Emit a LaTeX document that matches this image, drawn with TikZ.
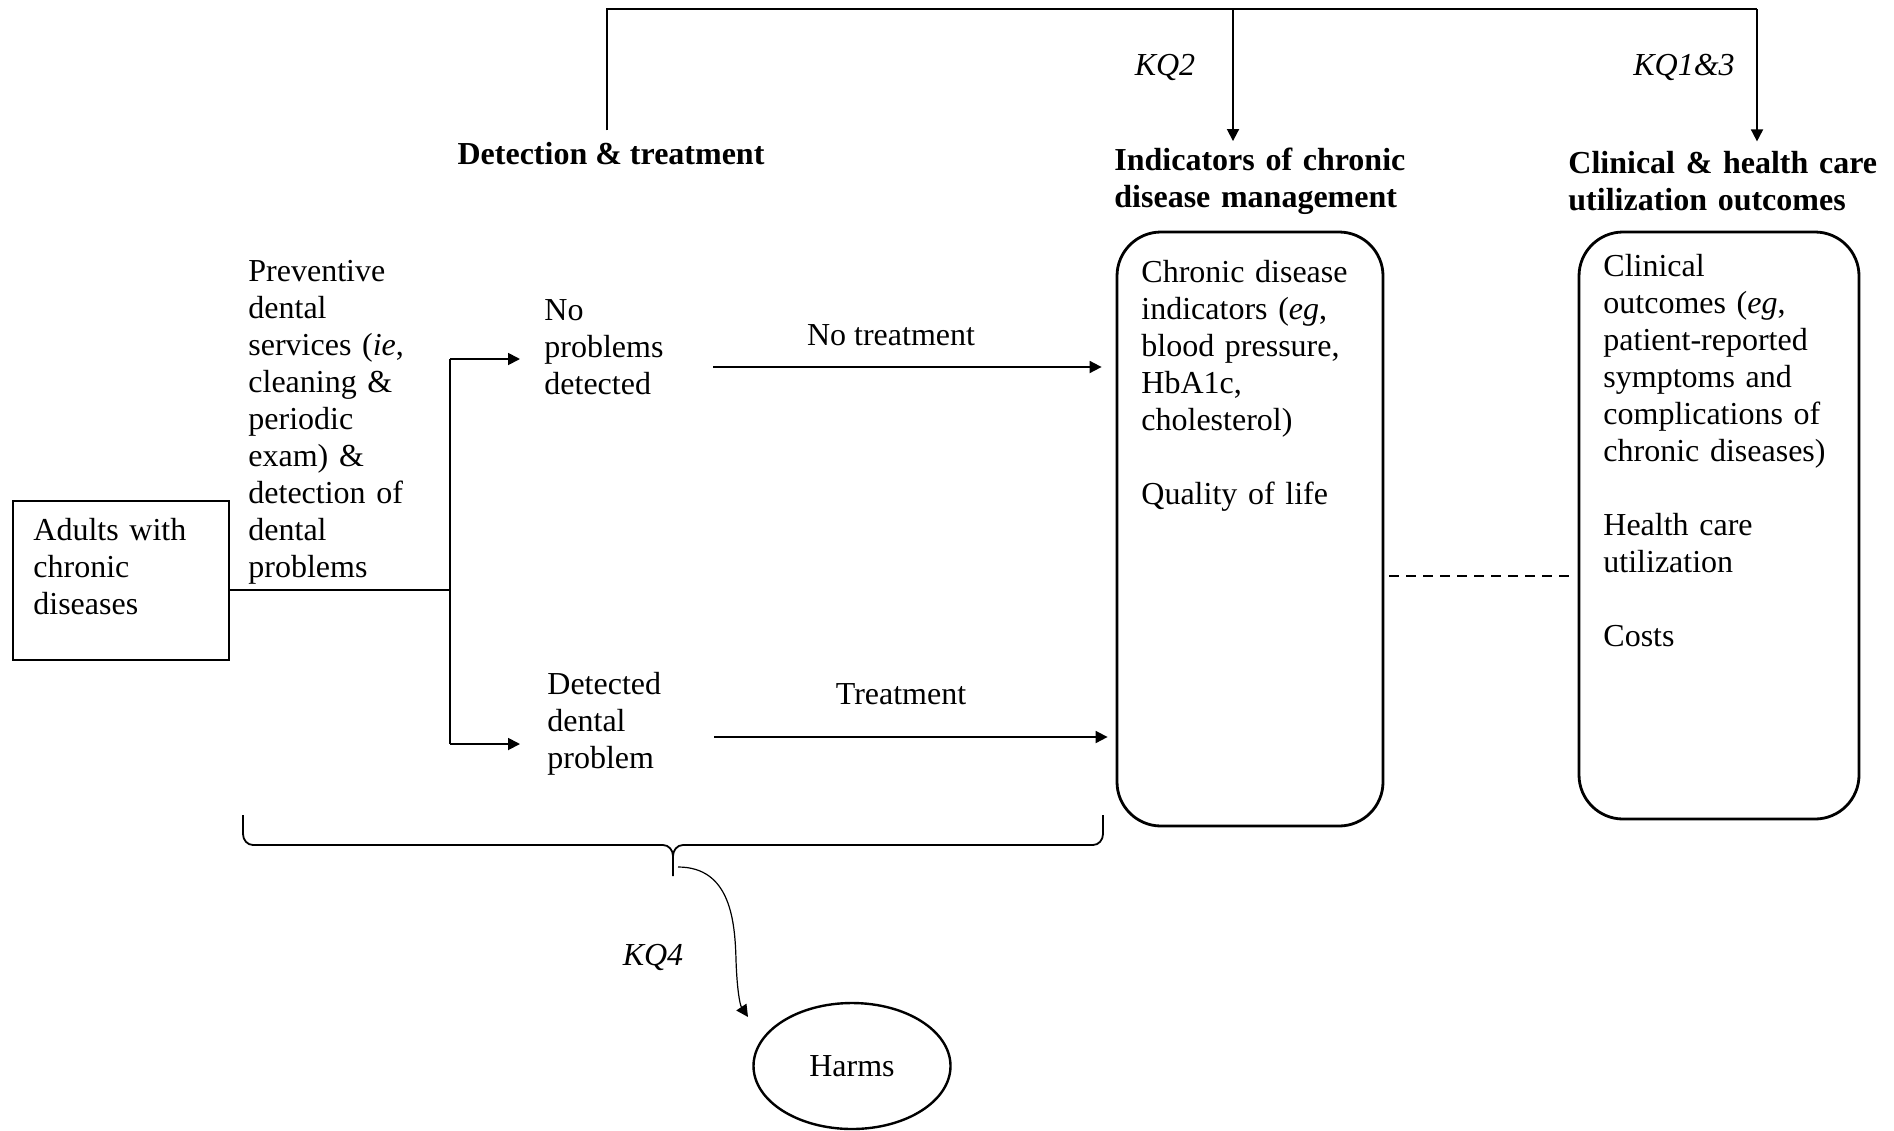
\documentclass[tikz,border=0pt]{standalone}
\usepackage{fontspec}
\setmainfont{Liberation Serif}
\usetikzlibrary{arrows.meta,shapes.geometric}
\begin{document}
\begin{tikzpicture}[x=0.5pt,y=-0.5pt,
  base/.style={font=\fontsize{16}{18.5}\selectfont, inner sep=0pt},
  txt/.style={base, anchor=base west, text width=170pt, align=left},
  hdr/.style={txt, font=\fontsize{16}{18.5}\selectfont\bfseries},
  kq/.style={base, anchor=base, font=\fontsize{16}{18.5}\selectfont\itshape},
  lbl/.style={base, anchor=base},
  conn/.style={line width=0.9pt},
  arr/.style={conn, -{Triangle[length=6pt,width=6pt]}},
  obox/.style={draw, line width=1.4pt, rounded corners=22pt, inner sep=0pt},
  brace/.style={line width=0.9pt},
  dashline/.style={line width=0.9pt, dash pattern=on 5pt off 3.5pt}
]
\useasboundingbox (0,0) rectangle (1894,1130);

% left box
\node[draw, line width=0.7pt, minimum width=108pt, minimum height=79.5pt, inner sep=0pt] (adults) at (121,580.5) {};
\node[txt] (adultsT) at (33,540) {Adults with\\chronic\\diseases};

\node[txt] (prev) at (248,281) {Preventive\\dental\\services (\textit{ie},\\cleaning \&\\periodic\\exam) \&\\detection of\\dental\\problems};

\node[txt] (noprob) at (544,320) {No\\problems\\detected};
\node[txt] (detprob) at (547,694) {Detected\\dental\\problem};

\node[lbl] (notreat) at (891,345) {No treatment};
\node[lbl] (treat) at (901,704) {Treatment};

% headers
\node[base, anchor=base, font=\fontsize{16}{18.5}\selectfont\bfseries] (det) at (611,164) {Detection \& treatment};
\node[hdr] (ind) at (1114,170) {Indicators of chronic\\disease management};
\node[hdr] (cho) at (1568,173) {Clinical \& health care\\utilization outcomes};

\node[kq] (kq2) at (1165,75) {KQ2};
\node[kq] (kq13) at (1684,75) {KQ1\&3};
\node[kq] (kq4) at (653,965) {KQ4};

% outcome boxes
\node[obox, minimum width=133pt, minimum height=297pt] (box1) at (1250,529) {};
\node[txt] (box1T) at (1141,282) {Chronic disease\\indicators (\textit{eg},\\blood pressure,\\HbA1c,\\cholesterol)\\[18.5pt]Quality of life};
\node[obox, minimum width=140pt, minimum height=293.5pt] (box2) at (1719,525.5) {};
\node[txt] (box2T) at (1603,276) {Clinical\\outcomes (\textit{eg},\\patient-reported\\symptoms and\\complications of\\chronic diseases)\\[18.5pt]Health care\\utilization\\[18.5pt]Costs};

% harms
\node[draw, ellipse, line width=1.2pt, minimum width=98.5pt, minimum height=63pt, base] (harms) at (852,1066) {\raisebox{-2pt}{Harms}};

% top bracket
\coordinate (tl) at (607,9);
\coordinate (k2) at (1233,9);
\coordinate (tr) at (1757,9);
\draw[conn] (det.north -| tl) ++(0,-11) -- (tl) -- (tr);
\draw[arr, shorten >=3pt] (k2) -- (k2 |- ind.north);
\draw[arr, shorten >=4.5pt] (tr) -- (tr |- cho.north);

% split
\coordinate (sp) at (450,590);
\coordinate (spT) at (450,359);
\coordinate (spB) at (450,744);
\draw[conn] (adults.east |- sp) -- (sp);
\draw[conn] (spT) -- (spB);
\draw[arr, shorten >=12pt] (spT) -- (spT -| noprob.west);
\draw[arr, shorten >=13.5pt] (spB) -- (spB -| detprob.west);

% treatment arrows
\coordinate (a1) at (713,367);
\coordinate (a2) at (714,737);
\draw[arr, shorten >=7pt] (a1) -- (a1 -| box1.west);
\draw[arr, shorten >=4pt] (a2) -- (a2 -| box1.west);

% dashed link
\coordinate (d1) at (1389,576);
\draw[dashline, shorten >=4pt] (d1) -- (d1 -| box2.west);

% brace
\coordinate (bl) at (243,815);
\coordinate (br) at (1103,815);
\coordinate (btip) at (673,876);
\draw[brace] (bl) -- (243,834) to[out=-90,in=180] (253,845) -- (663,845) to[out=0,in=90] (673,856) -- (btip);
\draw[brace] (br) -- (1103,834) to[out=-90,in=0] (1093,845) -- (683,845) to[out=180,in=90] (673,856);

% KQ4 curved arrow
\coordinate (cstart) at (678,867);
\coordinate (cend) at (748,1017);
\draw[line width=0.6pt, -{Triangle[length=6pt,width=6pt]}] (cstart) .. controls (730,867) and (735,920) .. (736,960) .. controls (737,990) and (740,1005) .. (cend);
\end{tikzpicture}
\end{document}
